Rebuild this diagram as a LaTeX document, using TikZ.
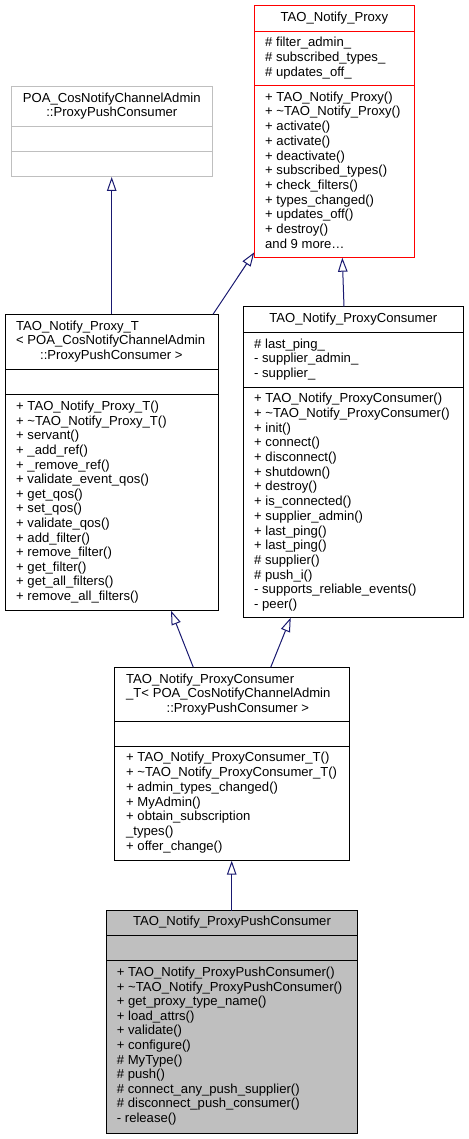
\documentclass[tikz,border=0pt]{standalone}
\usepackage{fontspec}
\setmainfont{Liberation Sans}
\usetikzlibrary{arrows.meta}
\definecolor{edgeblue}{RGB}{25,25,112}
\definecolor{boxgray}{RGB}{191,191,191}
\begin{document}
\begin{tikzpicture}[x=1pt,y=-1pt,
  box/.style={draw,line width=1pt,anchor=north west,inner sep=0pt,outer sep=0pt},
  txt/.style={inner sep=0pt,anchor=base west,font=\fontsize{13.1}{14.7}\selectfont},
  ctxt/.style={inner sep=0pt,anchor=base,font=\fontsize{13.1}{14.7}\selectfont},
  inh/.style={draw=edgeblue,line width=1pt,-{Triangle[open,length=14pt,width=9.5pt,line width=1pt]}},
  sep/.style={line width=1pt}]
\useasboundingbox (0,0) rectangle (468,1139);

% ---------- POA_CosNotifyChannelAdmin::ProxyPushConsumer
\node[box,draw=boxgray,minimum width=201pt,minimum height=90.3pt] (poa) at (11.3,86.7) {};
\draw[sep,boxgray] (poa.west |- 0,126.7) -- (poa.east |- 0,126.7);
\draw[sep,boxgray] (poa.west |- 0,152) -- (poa.east |- 0,152);
\node[ctxt] (poat1) at (111.8,102.3) {POA\_CosNotifyChannelAdmin};
\node[ctxt] (poat2) at (111.8,116.3) {::ProxyPushConsumer};

% ---------- TAO_Notify_Proxy
\node[box,draw=red,minimum width=160pt,minimum height=252pt] (proxy) at (254.3,5.7) {};
\draw[sep,red] (proxy.west |- 0,31.3) -- (proxy.east |- 0,31.3);
\draw[sep,red] (proxy.west |- 0,86) -- (proxy.east |- 0,86);
\node[ctxt] (proxyt) at (334.3,22) {TAO\_Notify\_Proxy};
\foreach \t [count=\i] in {\# filter\_admin\_,\# subscribed\_types\_,\# updates\_off\_}
  \node[txt] (pra\i) at (265,{46.7+14.8*(\i-1)}) {\t};
\foreach \t [count=\i] in {+ TAO\_Notify\_Proxy(),+ \textasciitilde TAO\_Notify\_Proxy(),+ activate(),+ activate(),+ deactivate(),+ subscribed\_types(),+ check\_filters(),+ types\_changed(),+ updates\_off(),+ destroy(),{and 9 more\ldots}}
  \node[txt] (prm\i) at (265,{101.3+14.7*(\i-1)}) {\t};

% ---------- TAO_Notify_Proxy_T
\node[box,minimum width=213.7pt,minimum height=296.4pt] (proxyT) at (5,314.3) {};
\draw[sep] (proxyT.west |- 0,369) -- (proxyT.east |- 0,369);
\draw[sep] (proxyT.west |- 0,394.3) -- (proxyT.east |- 0,394.3);
\node[txt] (ptt1) at (16,330) {TAO\_Notify\_Proxy\_T};
\node[txt] (ptt2) at (16,344.3) {< POA\_CosNotifyChannelAdmin};
\node[ctxt] (ptt3) at (111.3,359) {::ProxyPushConsumer >};
\foreach \t [count=\i] in {+ TAO\_Notify\_Proxy\_T(),+ \textasciitilde TAO\_Notify\_Proxy\_T(),+ servant(),+ \_add\_ref(),+ \_remove\_ref(),+ validate\_event\_qos(),+ get\_qos(),+ set\_qos(),+ validate\_qos(),+ add\_filter(),+ remove\_filter(),+ get\_filter(),+ get\_all\_filters(),+ remove\_all\_filters()}
  \node[txt] (ptm\i) at (16,{410.7+14.6*(\i-1)}) {\t};

% ---------- TAO_Notify_ProxyConsumer
\node[box,minimum width=220pt,minimum height=311pt] (pcons) at (243.3,306.7) {};
\draw[sep] (pcons.west |- 0,332.7) -- (pcons.east |- 0,332.7);
\draw[sep] (pcons.west |- 0,387.3) -- (pcons.east |- 0,387.3);
\node[ctxt] (pct) at (353.3,322.3) {TAO\_Notify\_ProxyConsumer};
\foreach \t [count=\i] in {\# last\_ping\_,- supplier\_admin\_,- supplier\_}
  \node[txt] (pca\i) at (254,{348.3+14.5*(\i-1)}) {\t};
\foreach \t [count=\i] in {+ TAO\_Notify\_ProxyConsumer(),+ \textasciitilde TAO\_Notify\_ProxyConsumer(),+ init(),+ connect(),+ disconnect(),+ shutdown(),+ destroy(),+ is\_connected(),+ supplier\_admin(),+ last\_ping(),+ last\_ping(),\# supplier(),\# push\_i(),- supports\_reliable\_events(),- peer()}
  \node[txt] (pcm\i) at (254,{402.7+14.7*(\i-1)}) {\t};

% ---------- TAO_Notify_ProxyConsumer_T
\node[box,minimum width=234.7pt,minimum height=193.4pt] (pconsT) at (114.3,667.3) {};
\draw[sep] (pconsT.west |- 0,721.7) -- (pconsT.east |- 0,721.7);
\draw[sep] (pconsT.west |- 0,746.7) -- (pconsT.east |- 0,746.7);
\node[txt] (pctt1) at (126,683) {TAO\_Notify\_ProxyConsumer};
\node[txt] (pctt2) at (126,697.3) {\_T< POA\_CosNotifyChannelAdmin};
\node[ctxt] (pctt3) at (237.8,712.7) {::ProxyPushConsumer >};
\foreach \t [count=\i] in {+ TAO\_Notify\_ProxyConsumer\_T(),+ \textasciitilde TAO\_Notify\_ProxyConsumer\_T(),+ admin\_types\_changed(),+ MyAdmin(),+ obtain\_subscription,\_types(),+ offer\_change()}
  \node[txt] (pctm\i) at (126,{761.7+14.8*(\i-1)}) {\t};

% ---------- TAO_Notify_ProxyPushConsumer
\node[box,fill=boxgray,minimum width=250.6pt,minimum height=222.6pt] (ppc) at (106.7,910.7) {};
\draw[sep] (ppc.west |- 0,935.3) -- (ppc.east |- 0,935.3);
\draw[sep] (ppc.west |- 0,960.7) -- (ppc.east |- 0,960.7);
\node[ctxt] (ppct) at (232,925.7) {TAO\_Notify\_ProxyPushConsumer};
\foreach \t [count=\i] in {+ TAO\_Notify\_ProxyPushConsumer(),+ \textasciitilde TAO\_Notify\_ProxyPushConsumer(),+ get\_proxy\_type\_name(),+ load\_attrs(),+ validate(),+ configure(),\# MyType(),\# push(),\# connect\_any\_push\_supplier(),\# disconnect\_push\_consumer(),- release()}
  \node[txt] (ppcm\i) at (116.7,{976.7+14.56*(\i-1)}) {\t};

% ---------- inheritance connectors
\draw[inh] (proxyT.north west) ++(106.7,0) coordinate (e1s) -- (e1s |- poa.south);
\draw[inh] (proxyT.north east) ++(-5.7,0) coordinate (e2s) -- ([yshift=5.4pt]proxy.south west);
\draw[inh] (pcons.north west) ++(100.7,0) coordinate (e3s) -- ([xshift=88pt]proxy.south west);
\draw[inh] (pconsT.north west) ++(79,0) coordinate (e4s) -- ([xshift=166pt]proxyT.south west);
\draw[inh] (pconsT.north west) ++(156.4,0) coordinate (e5s) -- ([xshift=47.4pt]pcons.south west);
\draw[inh] (ppc.north west) ++(125,0) coordinate (e6s) -- (e6s |- pconsT.south);
\end{tikzpicture}
\end{document}
